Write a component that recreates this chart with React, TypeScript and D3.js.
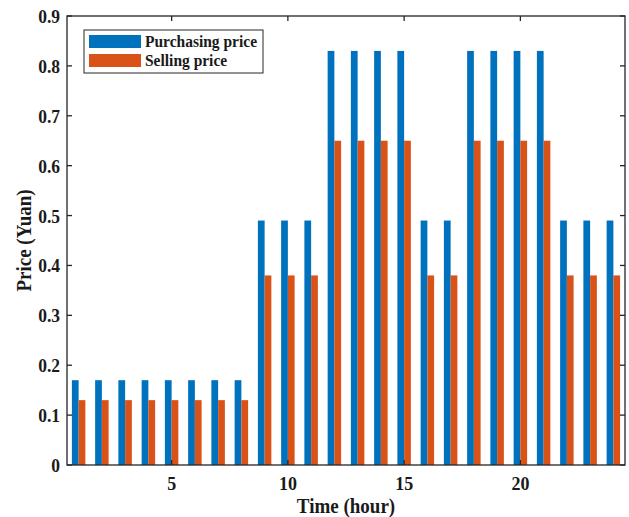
import React from 'react';
import * as d3 from 'd3';

// hourly tariff data
const hours = d3.range(1, 25);
const purchasing = [0.17, 0.17, 0.17, 0.17, 0.17, 0.17, 0.17, 0.17, 0.49, 0.49, 0.49, 0.83, 0.83, 0.83, 0.83, 0.49, 0.49, 0.83, 0.83, 0.83, 0.83, 0.49, 0.49, 0.49];
const selling = [0.13, 0.13, 0.13, 0.13, 0.13, 0.13, 0.13, 0.13, 0.38, 0.38, 0.38, 0.65, 0.65, 0.65, 0.65, 0.38, 0.38, 0.65, 0.65, 0.65, 0.65, 0.38, 0.38, 0.38];
const xTicks = [5, 10, 15, 20];
const yTicks = [0, 0.1, 0.2, 0.3, 0.4, 0.5, 0.6, 0.7, 0.8, 0.9];
const seriesNames = ['Purchasing price', 'Selling price'];
const colors = ['#0072BD', '#D95319'];

const W = 629;
const H = 517;
const margin = { top: 16, right: 4, bottom: 52, left: 67 };
const font = '"Liberation Serif", "Times New Roman", serif';
const stretch = 1.1; // glyphs in the source look a bit taller than wide

const T = ({ x, y, size, anchor = 'start', rotate = 0, children }: any) => (
  <text
    transform={`translate(${x},${y}) rotate(${rotate}) scale(1,${stretch})`}
    textAnchor={anchor}
    fontSize={size}
    fontWeight="bold"
    fill="#1a1a1a"
  >
    {children}
  </text>
);

export default function App() {
  const x = d3.scaleLinear().domain([0.5, 24.5]).range([margin.left, W - margin.right]);
  const y = d3.scaleLinear().domain([0, 0.9]).range([H - margin.bottom, margin.top]);
  const barW = 0.29; // in hour units
  const bw = x(barW) - x(0);
  const tick = 5;
  const [x0, x1] = x.range();
  const [y0, y1] = y.range();

  return (
    <svg width={W} height={H} style={{ position: 'absolute', left: 0, top: 0 }} fontFamily={font}>
      <rect width={W} height={H} fill="#fff" />
      {/* bars */}
      {hours.map((h, i) => (
        <g key={h}>
          <rect x={x(h - barW)} y={y(purchasing[i])} width={bw} height={y(0) - y(purchasing[i])} fill={colors[0]} />
          <rect x={x(h)} y={y(selling[i])} width={bw} height={y(0) - y(selling[i])} fill={colors[1]} />
        </g>
      ))}
      {/* axes box */}
      <rect x={x0} y={y1} width={x1 - x0} height={y0 - y1} fill="none" stroke="#262626" strokeWidth={1.3} />
      {xTicks.map((t) => (
        <g key={t}>
          <line x1={x(t)} x2={x(t)} y1={y0} y2={y0 - tick} stroke="#262626" strokeWidth={1.3} />
          <line x1={x(t)} x2={x(t)} y1={y1} y2={y1 + tick} stroke="#262626" strokeWidth={1.3} />
          <T x={x(t)} y={y0 + 25} size={18} anchor="middle">{t}</T>
        </g>
      ))}
      {yTicks.map((t) => (
        <g key={t}>
          <line x1={x0} x2={x0 + tick} y1={y(t)} y2={y(t)} stroke="#262626" strokeWidth={1.3} />
          <line x1={x1} x2={x1 - tick} y1={y(t)} y2={y(t)} stroke="#262626" strokeWidth={1.3} />
          <T x={x0 - 7} y={y(t) + 7} size={17.5} anchor="end">{t === 0 ? '0' : d3.format('.1f')(t)}</T>
        </g>
      ))}
      {/* axis titles */}
      <T x={(x0 + x1) / 2} y={H - 4} size={19} anchor="middle">Time (hour)</T>
      <T x={31} y={(y0 + y1) / 2} size={19} anchor="middle" rotate={-90}>Price (Yuan)</T>
      {/* legend */}
      <rect x={84} y={30} width={179} height={43} fill="#fff" stroke="#262626" strokeWidth={1} />
      {seriesNames.map((n, i) => (
        <g key={n}>
          <rect x={89} y={35 + i * 19} width={52} height={13} fill={colors[i]} />
          <T x={145} y={47 + i * 19} size={15.5}>{n}</T>
        </g>
      ))}
    </svg>
  );
}
